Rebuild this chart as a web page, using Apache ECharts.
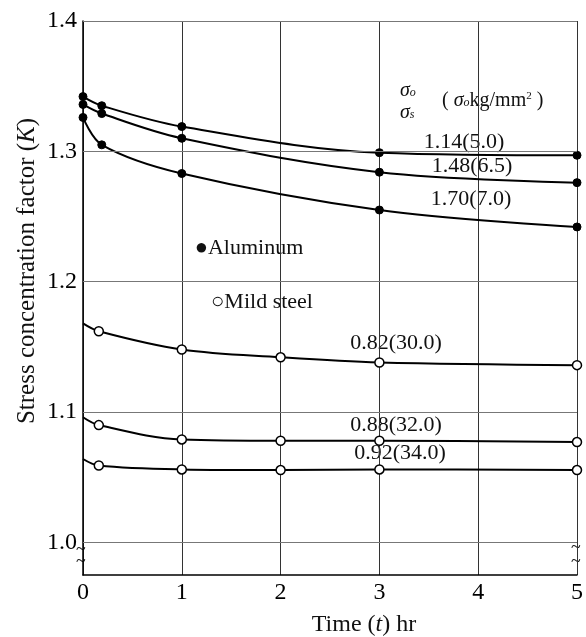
<!DOCTYPE html>
<html>
<head>
<meta charset="utf-8">
<script src="https://cdn.jsdelivr.net/npm/echarts@6/dist/echarts.min.js"></script>
<style>
  html, body { margin: 0; padding: 0; background: #fff; }
  #main { width: 586px; height: 637px; }
</style>
</head>
<body>
<div id="main"></div>
<script>
// time points (hr)
var alTime = [0, 0.19, 1, 3, 5];
var stTime = [0, 0.16, 1, 2, 3, 5];

// aluminum (filled dots)
var al114 = [1.342, 1.335, 1.319, 1.299, 1.297];
var al148 = [1.336, 1.329, 1.310, 1.284, 1.276];
var al170 = [1.326, 1.305, 1.283, 1.255, 1.242];

// mild steel (open dots), first value is the start of the drawn curve
var st082 = [1.168, 1.162, 1.148, 1.142, 1.138, 1.136];
var st088 = [1.096, 1.090, 1.079, 1.078, 1.078, 1.077];
var st092 = [1.064, 1.059, 1.056, 1.0555, 1.056, 1.0555];

var gridY = [1.0, 1.1, 1.2, 1.3, 1.4];

var serif = 'Liberation Serif';

function pairs(xs, ys, hideFirst){
    var out = [];
    for(var i=0;i<xs.length;i++){
        var p = {value:[xs[i], ys[i]]};
        if(hideFirst && i==0){ p.symbol = 'none'; }
        out.push(p);
    }
    return out;
}

function alSeries(name, ys){
    return {
        name: name,
        type: 'line',
        smooth: 0.35,
        data: pairs(alTime, ys, false),
        symbol: 'circle',
        symbolSize: 8,
        itemStyle: {color: '#000', borderColor: '#000', borderWidth: 1},
        lineStyle: {color: '#000', width: 2}
    };
}
function stSeries(name, ys){
    return {
        name: name,
        type: 'line',
        smooth: 0.35,
        data: pairs(stTime, ys, true),
        symbol: 'circle',
        symbolSize: 9,
        itemStyle: {color: '#fff', borderColor: '#000', borderWidth: 1.5},
        lineStyle: {color: '#000', width: 2}
    };
}

var myChart = echarts.init(document.getElementById('main'));

var series = [
    alSeries('1.14(5.0)', al114),
    alSeries('1.48(6.5)', al148),
    alSeries('1.70(7.0)', al170),
    stSeries('0.82(30.0)', st082),
    stSeries('0.88(32.0)', st088),
    stSeries('0.92(34.0)', st092)
];
series[0].markLine = {
    silent: true,
    symbol: 'none',
    label: {show: false},
    lineStyle: {color: '#777', width: 1, type: 'solid'},
    data: gridY.map(function(v){ return {yAxis: v}; })
};

function txt(x, y, text, size, extra){
    var el = {
        type: 'text',
        x: x,
        y: y,
        style: {
            text: text,
            font: (size || 20) + 'px "' + serif + '"',
            fill: '#111',
            verticalAlign: 'middle'
        }
    };
    if(extra){ for(var k in extra){ el.style[k] = extra[k]; } }
    return el;
}

var mid = {align: 'center'};
var sub = {
    s: {fontStyle: 'italic', fontSize: 20, fontFamily: serif},
    b: {fontStyle: 'italic', fontSize: 12, fontFamily: serif, padding: [0,0,-4,0]},
    p: {fontSize: 11, fontFamily: serif, padding: [0,0,10,0]}
};

var option = {
    animation: false,
    backgroundColor: '#fff',
    grid: {left: 83, right: 8, top: 21, bottom: 62},
    xAxis: {
        type: 'value',
        min: 0,
        max: 5,
        interval: 1,
        axisLine: {show: true, lineStyle: {color: '#000', width: 1.5}},
        axisTick: {show: false},
        axisLabel: {color: '#000', fontFamily: serif, fontSize: 24, margin: 6},
        splitLine: {show: true, lineStyle: {color: '#333', width: 1}}
    },
    yAxis: {
        type: 'value',
        min: 0.975,
        max: 1.4,
        interval: 0.025,
        axisLine: {show: true, lineStyle: {color: '#000', width: 1.5}},
        axisTick: {show: false},
        splitLine: {show: false},
        axisLabel: {
            color: '#000', fontFamily: serif, fontSize: 24, margin: 6,
            formatter: function(v){
                if(Math.abs(v*10 - Math.round(v*10)) < 1e-6){ return v.toFixed(1); }
                return '';
            }
        }
    },
    graphic: [
        {
            type: 'text',
            x: 27, y: 271,
            rotation: Math.PI/2,
            style: {
                text: 'Stress concentration factor ({i|K})',
                font: '25px "' + serif + '"',
                fill: '#111',
                align: 'center',
                verticalAlign: 'middle',
                rich: {i: {fontStyle: 'italic', fontSize: 25, fontFamily: serif}}
            }
        },
        txt(364, 625, 'Time ({i|t}) hr', 24, {align: 'center', rich: {i: {fontStyle: 'italic', fontSize: 24, fontFamily: serif}}}),
        // sigma header
        txt(400, 91, '{s|σ}{b|o}', 20, {rich: sub}),
        txt(400, 113, '{s|σ}{b|s}', 20, {rich: sub}),
        txt(442, 101, '( {s|σ}{b|o}kg/mm{p|2} )', 20, {rich: sub}),
        // curve labels
        txt(464, 142, '1.14(5.0)', 22, mid),
        txt(472, 166, '1.48(6.5)', 22, mid),
        txt(471, 199, '1.70(7.0)', 22, mid),
        txt(396, 343, '0.82(30.0)', 22, mid),
        txt(396, 425, '0.88(32.0)', 22, mid),
        txt(400, 453, '0.92(34.0)', 22, mid),
        // legend text
        txt(249, 248, '●Aluminum', 22, mid),
        txt(262, 302, '○Mild steel', 22, mid),
        // axis break marks
        txt(76, 550, '~', 18),
        txt(76, 562, '~', 18),
        txt(571, 548, '~', 18),
        txt(571, 562, '~', 18)
    ],
    series: series
};

myChart.setOption(option);
</script>
</body>
</html>
